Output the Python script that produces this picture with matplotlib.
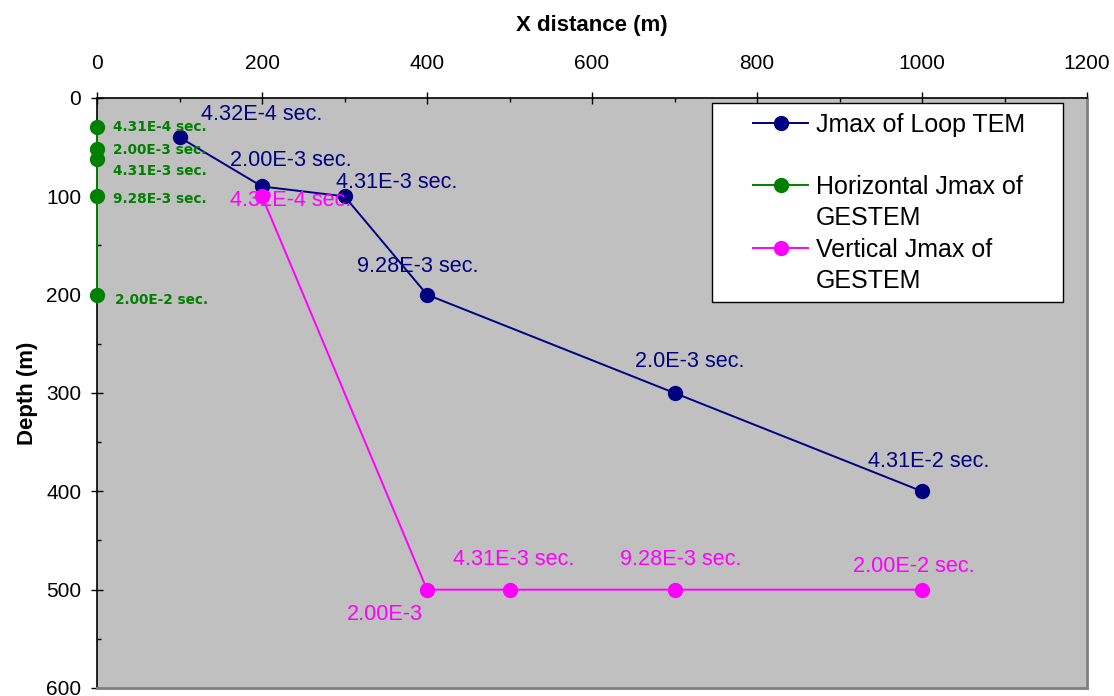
import matplotlib.pyplot as plt
from matplotlib.lines import Line2D
from matplotlib.patches import Rectangle
from matplotlib.ticker import MultipleLocator

plt.rcParams['font.family'] = ['Liberation Sans', 'DejaVu Sans']

# Jmax of Loop TEM
loop_x = [100, 200, 300, 400, 700, 1000]
loop_depth = [40, 90, 100, 200, 300, 400]
loop_labels = ['4.32E-4 sec.', '2.00E-3 sec.', '4.31E-3 sec.',
               '9.28E-3 sec.', '2.0E-3 sec.', '4.31E-2 sec.']

# Horizontal Jmax of GESTEM
horiz_x = [0, 0, 0, 0, 0]
horiz_depth = [30, 52, 62, 100, 200]
horiz_labels = ['4.31E-4 sec.', '2.00E-3 sec.', '4.31E-3 sec.',
                '9.28E-3 sec.', '2.00E-2 sec.']

# Vertical Jmax of GESTEM
vert_x = [200, 400, 500, 700, 1000]
vert_depth = [100, 500, 500, 500, 500]
vert_labels = ['4.32E-4 sec.', '2.00E-3', '4.31E-3 sec.',
               '9.28E-3 sec.', '2.00E-2 sec.']

NAVY = '#000080'
GREEN = '#008000'
MAGENTA = '#FF00FF'

# label offsets in pixels (dx, dy), up is positive
loop_off = [(82, 23), (29, 26), (52, 14), (-9, 28), (15, 31), (7, 30)]
horiz_off = [(16, 0), (16, -1), (16, -12), (16, -3), (18, -5)]
vert_off = [(29, -4), (-42, -25), (4, 30), (6, 30), (-8, 23)]

fig = plt.figure(figsize=(11.14, 6.96), dpi=100)
ax = fig.add_axes([0.0871, 0.0115, 0.8887, 0.8477])
ax.set_facecolor('#C0C0C0')

ax.plot(loop_x, loop_depth, color=NAVY, lw=1.4, marker='o', ms=10, zorder=3)
ax.plot(horiz_x, horiz_depth, color=GREEN, lw=1.4, marker='o', ms=10,
        clip_on=False, zorder=4)
ax.plot(vert_x, vert_depth, color=MAGENTA, lw=1.4, marker='o', ms=10, zorder=3)

for x, y, s, (dx, dy) in zip(loop_x, loop_depth, loop_labels, loop_off):
    ax.annotate(s, (x, y), xytext=(dx, dy), textcoords='offset pixels',
                ha='center', va='center', color=NAVY, fontsize=15.6)
for x, y, s, (dx, dy) in zip(vert_x, vert_depth, vert_labels, vert_off):
    ax.annotate(s, (x, y), xytext=(dx, dy), textcoords='offset pixels',
                ha='center', va='center', color=MAGENTA, fontsize=15.6)
for x, y, s, (dx, dy) in zip(horiz_x, horiz_depth, horiz_labels, horiz_off):
    ax.annotate(s, (x, y), xytext=(dx, dy), textcoords='offset pixels',
                ha='left', va='center', color=GREEN, fontsize=9.8,
                fontweight='bold', family='DejaVu Sans')

ax.set_xlim(0, 1200)
ax.set_ylim(600, 0)
ax.xaxis.set_major_locator(MultipleLocator(200))
ax.xaxis.set_minor_locator(MultipleLocator(100))
ax.yaxis.set_major_locator(MultipleLocator(100))
ax.yaxis.set_minor_locator(MultipleLocator(50))
ax.xaxis.tick_top()
ax.xaxis.set_label_position('top')
ax.tick_params(which='major', direction='inout', length=8.6, width=1,
               labelsize=15)
ax.tick_params(which='minor', direction='in', length=3, width=1)
ax.tick_params(axis='x', which='major', pad=14)
ax.tick_params(axis='y', which='major', pad=7)

ax.set_xlabel('X distance (m)', fontsize=16, fontweight='bold', labelpad=16)
ax.set_ylabel('Depth (m)', fontsize=16, fontweight='bold', labelpad=6)

for side in ('top', 'left'):
    ax.spines[side].set_color('black')
    ax.spines[side].set_linewidth(1.2)
for side in ('bottom', 'right'):
    ax.spines[side].set_color('#808080')
    ax.spines[side].set_linewidth(2)

# legend frame drawn separately so its size matches the original box
ax.add_patch(Rectangle((0.621, 0.654), 0.355, 0.338, transform=ax.transAxes,
                       facecolor='white', edgecolor='black', lw=1, zorder=5))

blank = Line2D([], [], linestyle='none')
handles = [
    Line2D([], [], color=NAVY, lw=1.4, marker='o', ms=10),
    blank,
    Line2D([], [], color=GREEN, lw=1.4, marker='o', ms=10),
    blank,
    Line2D([], [], color=MAGENTA, lw=1.4, marker='o', ms=10),
    blank,
]
labels = ['Jmax of Loop TEM', ' ', 'Horizontal Jmax of', 'GESTEM',
          'Vertical Jmax of', 'GESTEM']
leg = ax.legend(handles, labels, loc='upper left',
                bbox_to_anchor=(0.6626, 0.975), fontsize=18, frameon=False,
                handlelength=2.2, handletextpad=0.3, labelspacing=0.29,
                borderpad=0, borderaxespad=0)
leg.set_zorder(6)

fig.savefig('out.png', dpi=100)
